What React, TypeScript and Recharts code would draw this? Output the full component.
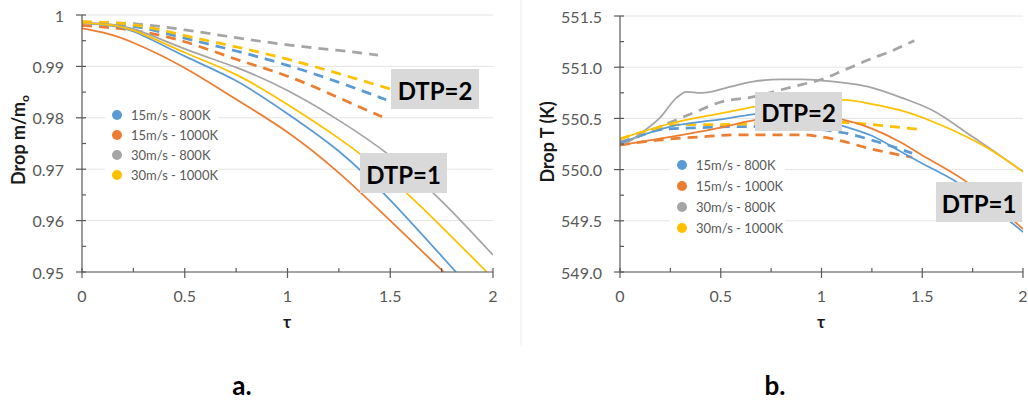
import { LineChart, Line, XAxis, YAxis, CartesianGrid } from 'recharts'

const LEGEND = ['15m/s - 800K', '15m/s - 1000K', '30m/s - 800K', '30m/s - 1000K']
const COLORS = ['#5B9BD5', '#ED7D31', '#A5A5A5', '#FFC000']

const X_TICKS = [0, 0.25, 0.5, 0.75, 1, 1.25, 1.5, 1.75, 2]
const A_Y_TICKS = [0.95, 0.955, 0.96, 0.965, 0.97, 0.975, 0.98, 0.985, 0.99, 0.995, 1]
const A_Y_MAJOR = [0.95, 0.96, 0.97, 0.98, 0.99, 1]
const B_Y_TICKS = [549, 549.25, 549.5, 549.75, 550, 550.25, 550.5, 550.75, 551, 551.25, 551.5]
const B_Y_MAJOR = [549, 549.5, 550, 550.5, 551, 551.5]

// panel a, drop m/mo, DTP=1 (solid)
const A1_TAU_15_800 = [0, 0.1, 0.25, 0.5, 0.75, 1, 1.25, 1.5, 1.75, 1.82]
const A1_VAL_15_800 = [0.9985, 0.9981, 0.9968, 0.992, 0.9872, 0.9808, 0.9735, 0.964, 0.9531, 0.95]
const A1_TAU_15_1000 = [0, 0.1, 0.25, 0.5, 0.75, 1, 1.25, 1.5, 1.76]
const A1_VAL_15_1000 = [0.9974, 0.9966, 0.9946, 0.9897, 0.9836, 0.9772, 0.9693, 0.96, 0.95]
const A1_TAU_30_800 = [0, 0.1, 0.25, 0.5, 0.75, 1, 1.25, 1.5, 1.75, 2]
const A1_VAL_30_800 = [0.9985, 0.9983, 0.9973, 0.9934, 0.9898, 0.9853, 0.9795, 0.9726, 0.9638, 0.9533]
const A1_TAU_30_1000 = [0, 0.1, 0.25, 0.5, 0.75, 1, 1.25, 1.5, 1.75, 1.97]
const A1_VAL_30_1000 = [0.9985, 0.9982, 0.997, 0.9927, 0.9884, 0.9826, 0.976, 0.9682, 0.9588, 0.95]

// panel a, DTP=2 (dashed)
const A2_TAU_15_800 = [0, 0.25, 0.5, 0.75, 1, 1.25, 1.48]
const A2_VAL_15_800 = [0.9985, 0.9978, 0.9955, 0.993, 0.9902, 0.9869, 0.9835]
const A2_TAU_15_1000 = [0, 0.25, 0.5, 0.75, 1, 1.25, 1.46]
const A2_VAL_15_1000 = [0.998, 0.997, 0.9948, 0.9914, 0.9881, 0.9839, 0.9802]
const A2_TAU_30_800 = [0, 0.25, 0.5, 0.75, 1, 1.25, 1.44]
const A2_VAL_30_800 = [0.9986, 0.9983, 0.9971, 0.9956, 0.9942, 0.9931, 0.9922]
const A2_TAU_30_1000 = [0, 0.25, 0.5, 0.75, 1, 1.25, 1.5]
const A2_VAL_30_1000 = [0.9987, 0.9981, 0.996, 0.9938, 0.9914, 0.9886, 0.9856]

// panel b, drop T (K), DTP=1 (solid)
const B1_TAU_15_800 = [0, 0.1, 0.25, 0.5, 0.66, 0.8, 0.95, 1.1, 1.25, 1.39, 1.5, 1.67, 1.85, 2]
const B1_VAL_15_800 = [550.26, 550.33, 550.42, 550.49, 550.54, 550.56, 550.52, 550.43, 550.33, 550.18, 550.06, 549.88, 549.63, 549.39]
const B1_TAU_15_1000 = [0, 0.25, 0.5, 0.66, 0.8, 0.95, 1.1, 1.25, 1.39, 1.5, 1.72, 1.85, 2]
const B1_VAL_15_1000 = [550.24, 550.32, 550.41, 550.48, 550.51, 550.52, 550.49, 550.4, 550.27, 550.14, 549.88, 549.68, 549.42]
const B1_TAU_30_800 = [0, 0.05, 0.1, 0.2, 0.28, 0.33, 0.4, 0.45, 0.55, 0.66, 0.8, 0.9, 1, 1.23, 1.4, 1.55, 1.75, 2]
const B1_VAL_30_800 = [550.25, 550.28, 550.35, 550.51, 550.7, 550.76, 550.75, 550.76, 550.81, 550.86, 550.88, 550.88, 550.87, 550.81, 550.7, 550.58, 550.32, 549.98]
const B1_TAU_30_1000 = [0, 0.25, 0.5, 0.75, 1, 1.11, 1.25, 1.39, 1.55, 1.72, 1.85, 2]
const B1_VAL_30_1000 = [550.3, 550.45, 550.55, 550.64, 550.68, 550.68, 550.64, 550.58, 550.47, 550.32, 550.18, 549.98]

// panel b, DTP=2 (dashed)
const B2_TAU_15_800 = [0, 0.1, 0.2, 0.4, 0.6, 0.8, 1, 1.11, 1.28, 1.45]
const B2_VAL_15_800 = [550.26, 550.33, 550.39, 550.41, 550.42, 550.41, 550.39, 550.36, 550.27, 550.16]
const B2_TAU_15_1000 = [0, 0.2, 0.4, 0.6, 0.8, 0.9, 1, 1.1, 1.23, 1.45]
const B2_VAL_15_1000 = [550.24, 550.29, 550.32, 550.34, 550.34, 550.34, 550.32, 550.28, 550.21, 550.12]
const B2_TAU_30_800 = [0, 0.1, 0.2, 0.36, 0.5, 0.66, 0.8, 0.9, 1, 1.1, 1.23, 1.35, 1.46]
const B2_VAL_30_800 = [550.27, 550.33, 550.42, 550.55, 550.66, 550.71, 550.78, 550.83, 550.88, 550.96, 551.07, 551.16, 551.26]
const B2_TAU_30_1000 = [0, 0.1, 0.2, 0.3, 0.5, 0.7, 0.9, 1.1, 1.3, 1.5]
const B2_VAL_30_1000 = [550.3, 550.36, 550.41, 550.44, 550.44, 550.45, 550.46, 550.46, 550.43, 550.39]

const AXIS = '#595959'
const TICK_TEXT = '#595959'
const GRID = '#e4e4e4'
const FONT = 'Lato, "Open Sans", sans-serif'

type Series = { tau: number[]; values: number[]; color: string; dashed: boolean }

const pts = (tau: number[], values: number[]) => tau.map((t, i) => ({ tau: t, v: values[i] }))

const seriesA: Series[] = [
  { tau: A2_TAU_15_800, values: A2_VAL_15_800, color: COLORS[0], dashed: true },
  { tau: A2_TAU_15_1000, values: A2_VAL_15_1000, color: COLORS[1], dashed: true },
  { tau: A2_TAU_30_800, values: A2_VAL_30_800, color: COLORS[2], dashed: true },
  { tau: A2_TAU_30_1000, values: A2_VAL_30_1000, color: COLORS[3], dashed: true },
  { tau: A1_TAU_15_800, values: A1_VAL_15_800, color: COLORS[0], dashed: false },
  { tau: A1_TAU_15_1000, values: A1_VAL_15_1000, color: COLORS[1], dashed: false },
  { tau: A1_TAU_30_800, values: A1_VAL_30_800, color: COLORS[2], dashed: false },
  { tau: A1_TAU_30_1000, values: A1_VAL_30_1000, color: COLORS[3], dashed: false },
]

const seriesB: Series[] = [
  { tau: B2_TAU_15_800, values: B2_VAL_15_800, color: COLORS[0], dashed: true },
  { tau: B2_TAU_15_1000, values: B2_VAL_15_1000, color: COLORS[1], dashed: true },
  { tau: B2_TAU_30_800, values: B2_VAL_30_800, color: COLORS[2], dashed: true },
  { tau: B2_TAU_30_1000, values: B2_VAL_30_1000, color: COLORS[3], dashed: true },
  { tau: B1_TAU_15_800, values: B1_VAL_15_800, color: COLORS[0], dashed: false },
  { tau: B1_TAU_15_1000, values: B1_VAL_15_1000, color: COLORS[1], dashed: false },
  { tau: B1_TAU_30_800, values: B1_VAL_30_800, color: COLORS[2], dashed: false },
  { tau: B1_TAU_30_1000, values: B1_VAL_30_1000, color: COLORS[3], dashed: false },
]

const isMajor = (v: number, step: number) => Math.abs(v / step - Math.round(v / step)) < 1e-6

function XTick({ x, y, payload }: any) {
  const v = payload.value as number
  const major = isMajor(v, 0.5)
  return (
    <g>
      <line x1={x} x2={x} y1={y - 4} y2={major ? y + 6 : y} stroke={AXIS} strokeWidth={1.2} />
      {major && (
        <text x={x} y={y + 30} textAnchor="middle" fill={TICK_TEXT} fontSize={16} fontFamily={FONT}>
          {String(v)}
        </text>
      )}
    </g>
  )
}

function makeYTick(step: number, fmt: (v: number) => string) {
  return ({ x, y, payload }: any) => {
    const v = payload.value as number
    const major = isMajor(v, step)
    return (
      <g>
        <line x1={major ? x - 6 : x} x2={x + 4} y1={y} y2={y} stroke={AXIS} strokeWidth={1.2} />
        {major && (
          <text x={x - 18} y={y} textAnchor="end" dominantBaseline="central" fill={TICK_TEXT} fontSize={16} fontFamily={FONT}>
            {fmt(v)}
          </text>
        )}
      </g>
    )
  }
}

const YTickA = makeYTick(0.01, (v) => (v === 1 ? '1' : v.toFixed(2)))
const YTickB = makeYTick(0.5, (v) => v.toFixed(1))

function Panel({ series, curve, yDomain, yTicks, yMajor, yTick, yWidth, top, right, width }: any) {
  return (
    <LineChart width={width} height={330} margin={{ top, right, bottom: 0, left: 0 }}>
      <CartesianGrid vertical={false} horizontalValues={yMajor} stroke={GRID} />
      <XAxis
        type="number"
        dataKey="tau"
        domain={[0, 2]}
        ticks={X_TICKS}
        interval={0}
        tick={XTick}
        tickSize={0}
        tickMargin={0}
        tickLine={false}
        height={58}
        axisLine={{ stroke: AXIS, strokeWidth: 1.2 }}
        allowDataOverflow
      />
      <YAxis
        type="number"
        domain={yDomain}
        ticks={yTicks}
        interval={0}
        tick={yTick}
        tickSize={0}
        tickMargin={0}
        tickLine={false}
        width={yWidth}
        axisLine={{ stroke: AXIS, strokeWidth: 1.2 }}
        allowDataOverflow
      />
      {series.map((s: Series, i: number) => (
        <Line
          key={i}
          data={pts(s.tau, s.values)}
          dataKey="v"
          type={curve}
          stroke={s.color}
          strokeWidth={s.dashed ? 2.75 : 1.75}
          strokeDasharray={s.dashed ? '10 7' : undefined}
          dot={false}
          activeDot={false}
          isAnimationActive={false}
        />
      ))}
    </LineChart>
  )
}

function LegendBox({ x, y, w, h, cx, tx, y0, gap }: any) {
  return (
    <g>
      <rect x={x} y={y} width={w} height={h} fill="#fff" />
      {LEGEND.map((name, i) => (
        <g key={name}>
          <circle cx={cx} cy={y0 + i * gap} r={5} fill={COLORS[i]} />
          <text x={tx} y={y0 + i * gap} dominantBaseline="central" fontSize={13} fill={TICK_TEXT} fontFamily={FONT}>
            {name}
          </text>
        </g>
      ))}
    </g>
  )
}

function Tag({ x, y, w, h, text }: any) {
  return (
    <g>
      <rect x={x} y={y} width={w} height={h} fill="#d9d9d9" />
      <text x={x + w / 2} y={y + h / 2 + 1} textAnchor="middle" dominantBaseline="central" fontSize={24} fontWeight="bold" fill="#000" fontFamily={FONT}>
        {text}
      </text>
    </g>
  )
}

export default function App() {
  return (
    <div style={{ position: 'absolute', left: 0, top: 0, width: 1028, height: 407, background: '#fff', fontFamily: FONT }}>
      <div style={{ position: 'absolute', left: 0, top: 0 }}>
        <Panel series={seriesA} curve="natural" yDomain={[0.95, 1]} yTicks={A_Y_TICKS} yMajor={A_Y_MAJOR} yTick={YTickA} yWidth={82} top={15} right={17} width={510} />
      </div>
      <div style={{ position: 'absolute', left: 520, top: 0 }}>
        <Panel series={seriesB} curve="monotone" yDomain={[549, 551.5]} yTicks={B_Y_TICKS} yMajor={B_Y_MAJOR} yTick={YTickB} yWidth={100} top={16} right={5} width={508} />
      </div>
      <svg width={1028} height={407} style={{ position: 'absolute', left: 0, top: 0, pointerEvents: 'none' }}>
        <line x1={521} x2={521} y1={0} y2={345} stroke="#ececec" />
        <LegendBox x={105} y={104} w={113} h={82} cx={117} tx={131} y0={115} gap={20} />
        <LegendBox x={670} y={153} w={115} h={86} cx={682} tx={696} y0={165} gap={21} />
        <Tag x={391} y={69} w={88} h={40} text="DTP=2" />
        <Tag x={360} y={153} w={87} h={40} text="DTP=1" />
        <Tag x={755} y={92} w={87} h={39} text="DTP=2" />
        <Tag x={936} y={182} w={86} h={40} text="DTP=1" />
        <text transform="translate(25,140) rotate(-90)" textAnchor="middle" fontSize={18} fontWeight="bold" fill="#1a1a1a" fontFamily={FONT}>
          Drop m/m<tspan fontSize={12} dy={4}>o</tspan>
        </text>
        <text transform="translate(554,142) rotate(-90)" textAnchor="middle" fontSize={18} fontWeight="bold" fill="#1a1a1a" fontFamily={FONT}>
          Drop T (K)
        </text>
        <text x={287} y={328} textAnchor="middle" fontSize={17} fontWeight="bold" fill="#1a1a1a" fontFamily={FONT}>τ</text>
        <text x={821} y={328} textAnchor="middle" fontSize={17} fontWeight="bold" fill="#1a1a1a" fontFamily={FONT}>τ</text>
        <text x={242} y={395} textAnchor="middle" fontSize={26} fontWeight="bold" fill="#000" fontFamily={FONT}>a.</text>
        <text x={775} y={395} textAnchor="middle" fontSize={26} fontWeight="bold" fill="#000" fontFamily={FONT}>b.</text>
      </svg>
    </div>
  )
}
